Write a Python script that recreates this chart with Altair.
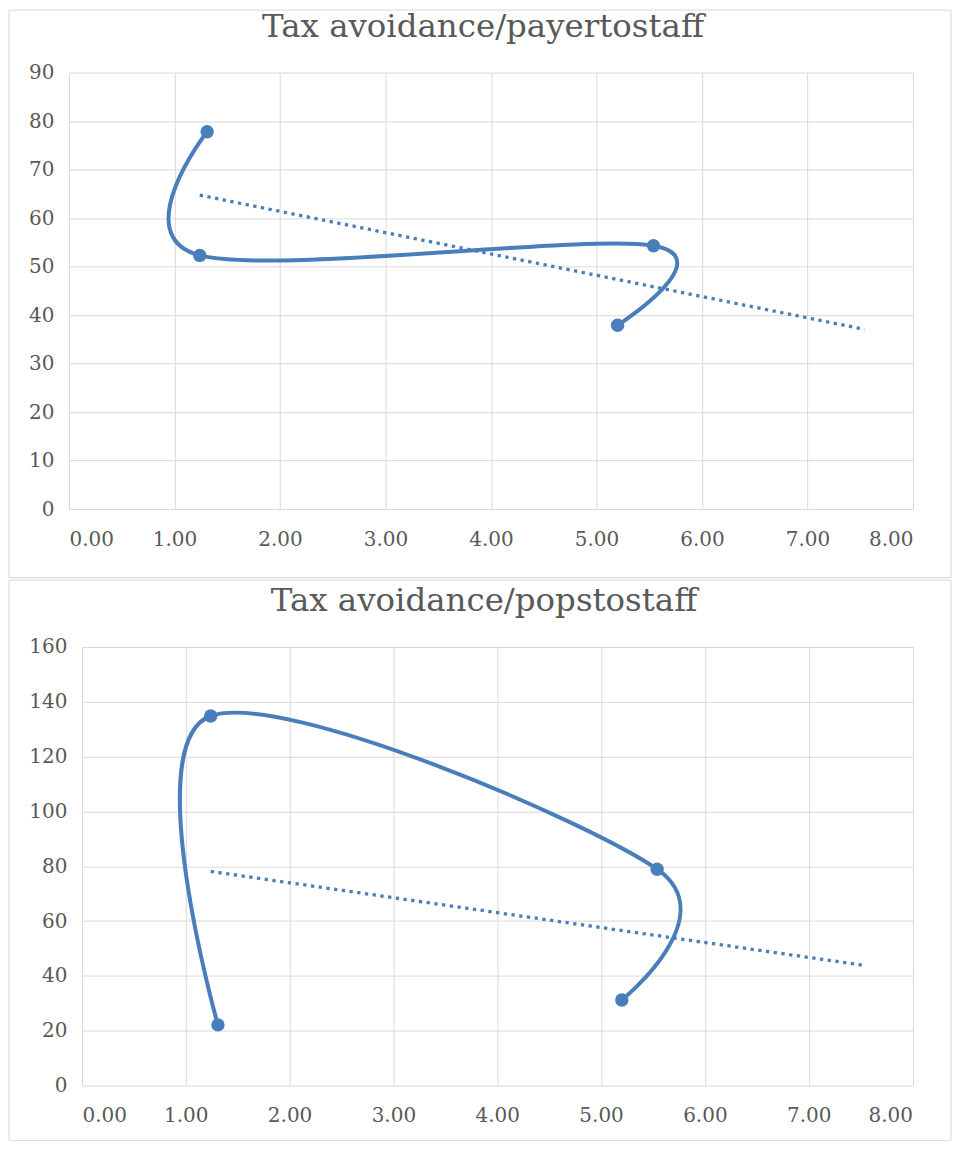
import altair as alt
import pandas as pd

# ---- data ----
X_VALUES = [1.31, 1.24, 5.54, 5.20]
PAYER_Y = [77.8, 52.3, 54.3, 37.9]
POPS_Y = [22.1, 134.8, 78.9, 31.2]
TITLES = ["Tax avoidance/payertostaff", "Tax avoidance/popstostaff"]
X_TICKS = [0, 1, 2, 3, 4, 5, 6, 7, 8]
PAYER_Y_TICKS = [0, 10, 20, 30, 40, 50, 60, 70, 80, 90]
POPS_Y_TICKS = [0, 20, 40, 60, 80, 100, 120, 140, 160]
FORECAST_FORWARD = 2.0  # linear trendline forecast forward

BLUE = "#4A7EBB"
GRID = "#d9d9d9"
TEXT = "#595959"
FONT = "DejaVu Serif"


def panel(yvals, title, yticks, width, height, x_range, y_label_pad, frame, title_xy):
    df = pd.DataFrame({"x": X_VALUES, "y": yvals, "idx": list(range(len(yvals)))})
    base = alt.Chart(df)
    x_enc = alt.X(
        "x:Q",
        title=None,
        scale=alt.Scale(domain=[X_TICKS[0], X_TICKS[-1]], range=x_range,
                        nice=False, zero=False),
        axis=alt.Axis(values=X_TICKS, format=".2f", labelPadding=20),
    )
    y_enc = alt.Y(
        "y:Q",
        title=None,
        scale=alt.Scale(domain=[yticks[0], yticks[-1]], nice=False),
        axis=alt.Axis(values=yticks, labelPadding=y_label_pad),
    )

    frame_layer = alt.Chart(pd.DataFrame({"k": [0]})).mark_rect(
        fill="white", fillOpacity=0, stroke=GRID, strokeWidth=1
    ).encode(
        x=alt.value(frame[0]), x2=alt.value(frame[1]),
        y=alt.value(frame[2]), y2=alt.value(frame[3]),
    )

    line = base.mark_line(
        interpolate="cardinal", color=BLUE, strokeWidth=4, strokeCap="round"
    ).encode(x=x_enc, y=y_enc, order="idx:Q")

    points = base.mark_circle(size=180, opacity=1, color=BLUE).encode(x="x:Q", y="y:Q")

    xmin = min(X_VALUES)
    xmax = max(X_VALUES)
    trend = base.transform_regression(
        "x", "y", method="linear", extent=[xmin, xmax + FORECAST_FORWARD]
    ).mark_line(color=BLUE, strokeWidth=3.3, strokeDash=[3.3, 4.5]).encode(
        x="x:Q", y="y:Q"
    )

    title_layer = alt.Chart(pd.DataFrame({"t": [title]})).mark_text(
        font=FONT, fontSize=32.5, color=TEXT, align="center", baseline="alphabetic"
    ).encode(text="t:N", x=alt.value(title_xy[0]), y=alt.value(title_xy[1]))

    return alt.layer(frame_layer, line, points, trend, title_layer).properties(
        width=width, height=height
    )


top = panel(PAYER_Y, TITLES[0], PAYER_Y_TICKS, 845, 437,
            x_range=[0, 845], y_label_pad=15,
            frame=[-60, 883, -62.5, 505.5], title_xy=[414.5, -36])
bottom = panel(POPS_Y, TITLES[1], POPS_Y_TICKS, 845, 439,
               x_range=[13, 844.5], y_label_pad=2,
               frame=[-60, 883, -67, 494], title_xy=[415.5, -36])

chart = alt.vconcat(top, bottom, spacing=0, padding=0).configure_view(
    stroke="transparent"
).configure_axis(
    labelFont=FONT, labelFontSize=20, labelColor=TEXT,
    gridColor=GRID, gridWidth=1, domain=False, ticks=False, tickSize=0,
)

chart.save("out.html", embed_options={"renderer": "svg", "actions": False})
